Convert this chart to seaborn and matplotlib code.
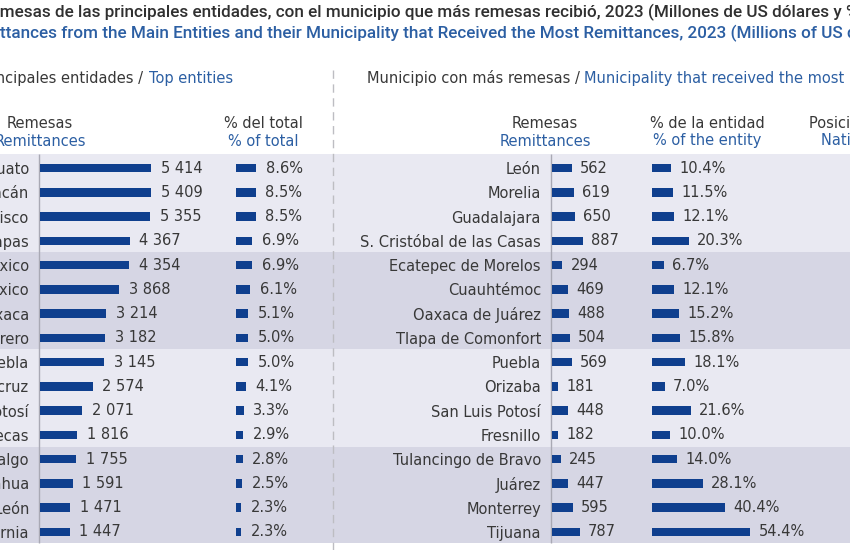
import matplotlib
matplotlib.use("Agg")
import matplotlib.pyplot as plt
import seaborn as sns

# data
entidades = ["Guanajuato", "Michoacán", "Jalisco", "Chiapas", "Estado de México",
             "Ciudad de México", "Oaxaca", "Guerrero", "Puebla", "Veracruz",
             "San Luis Potosí", "Zacatecas", "Hidalgo", "Chihuahua", "Nuevo León",
             "Baja California"]
remesas_ent = [5414, 5409, 5355, 4367, 4354, 3868, 3214, 3182, 3145, 2574,
               2071, 1816, 1755, 1591, 1471, 1447]
pct_total = [8.6, 8.5, 8.5, 6.9, 6.9, 6.1, 5.1, 5.0, 5.0, 4.1, 3.3, 2.9,
             2.8, 2.5, 2.3, 2.3]

municipios = ["León", "Morelia", "Guadalajara", "S. Cristóbal de las Casas",
              "Ecatepec de Morelos", "Cuauhtémoc", "Oaxaca de Juárez",
              "Tlapa de Comonfort", "Puebla", "Orizaba", "San Luis Potosí",
              "Fresnillo", "Tulancingo de Bravo", "Juárez", "Monterrey", "Tijuana"]
remesas_mun = [562, 619, 650, 887, 294, 469, 488, 504, 569, 181, 448, 182,
               245, 447, 595, 787]
pct_entidad = [10.4, 11.5, 12.1, 20.3, 6.7, 12.1, 15.2, 15.8, 18.1, 7.0, 21.6,
               10.0, 14.0, 28.1, 40.4, 54.4]

BLUE = "#0f3f8e"
TXT_BLUE = "#2c5fa3"
GRAY = "#383838"
LIGHT = "#e9e9f2"
DARK = "#d6d6e4"
FS = 10.5

sns.set_theme(style="white")
plt.rcParams["font.family"] = ["DejaVu Sans"]

W, H = 850, 550
fig = plt.figure(figsize=(8.5, 5.5), dpi=100)
bg = fig.add_axes([0, 0, 1, 1])
bg.set_xlim(0, W)
bg.set_ylim(H, 0)
bg.axis("off")

# alternating bands, four rows each
for y0, y1, c in [(154, 252, LIGHT), (252, 349, DARK), (349, 447, LIGHT), (447, 543, DARK)]:
    bg.axhspan(y0, y1, color=c, lw=0, zorder=0)

bg.vlines([39.5, 551.5], 154, 543, color="#a9a9b4", lw=1, zorder=1)
bg.vlines(333, 70, 550, color="#bdbdc2", lw=1, ls=(0, (6, 4)), zorder=1)

renderer = fig.canvas.get_renderer()


def width_of(s, **kw):
    t = bg.text(0, 0, s, **kw)
    w = t.get_window_extent(renderer).width
    t.remove()
    return w


def cut_text(x, y, full, cut, **kw):
    # place the full string so that the part after `cut` starts at x
    bg.text(x - width_of(cut, **kw), y, full, va="center", ha="left", **kw)


# titles
t1 = dict(fontsize=12.3, fontweight="medium", color="#303030", family=["Roboto", "DejaVu Sans"])
cut_text(0, 12, "Remesas de las principales entidades, con el municipio que más remesas "
         "recibió, 2023 (Millones de US dólares y %)", "Re", **t1)
t2 = dict(t1, color=TXT_BLUE)
cut_text(0, 33, "Remittances from the Main Entities and their Municipality that Received "
         "the Most Remittances, 2023 (Millions of US dollars and %)", "Remi", **t2)

# section subtitles
sub = dict(fontsize=FS, color=GRAY)
bg.text(143, 78, "Principales entidades /", va="center", ha="right", **sub)
bg.text(149, 78, "Top entities", va="center", fontsize=FS, color=TXT_BLUE)
bg.text(367, 78, "Municipio con más remesas /", va="center", **sub)
bg.text(367 + width_of("Municipio con más remesas / ", **sub), 78,
        "Municipality that received the most remittances", va="center",
        fontsize=FS, color=TXT_BLUE)

# column headers
for x, es, en in [(40, "Remesas", "Remittances"), (263, "% del total", "% of total"),
                  (545, "Remesas", "Remittances"), (707, "% de la entidad", "% of the entity")]:
    bg.text(x, 123, es, ha="center", va="center", fontsize=FS, color=GRAY)
    bg.text(x, 141, en, ha="center", va="center", fontsize=FS, color=TXT_BLUE)
bg.text(809, 123, "Posición nacional", va="center", fontsize=FS, color=GRAY)
bg.text(821, 141, "National ranking", va="center", fontsize=FS, color=TXT_BLUE)


def px_axes(x0, x1, y0=156, y1=544):
    return fig.add_axes([x0 / W, 1 - y1 / H, (x1 - x0) / W, (y1 - y0) / H])


def bars(ax, names, vals, labels, pad, show_names=False):
    sns.barplot(x=vals, y=names, orient="h", color=BLUE, width=0.35,
                saturation=1, linewidth=0, ax=ax)
    ax.set_xlim(0, max(vals))
    ax.set_ylim(len(names) - 0.5, -0.5)
    ax.patch.set_alpha(0)
    sns.despine(ax=ax, left=True, bottom=True)
    ax.set_xticks([])
    ax.set_xlabel("")
    ax.set_ylabel("")
    if show_names:
        ax.tick_params(axis="y", length=0, pad=8, labelsize=FS, labelcolor=GRAY)
    else:
        ax.set_yticks([])
    ax.bar_label(ax.containers[0], labels=labels, padding=pad,
                 fontsize=FS, color=GRAY)


def miles(v):
    return f"{v:,}".replace(",", " ")


ax1 = px_axes(40, 151)
bars(ax1, entidades, remesas_ent, [miles(v) for v in remesas_ent], 7, show_names=True)
ax2 = px_axes(236, 256)
bars(ax2, entidades, pct_total, [f"{v:.1f}%" for v in pct_total], 7)
ax3 = px_axes(552, 583)
bars(ax3, municipios, remesas_mun, [miles(v) for v in remesas_mun], 6, show_names=True)
ax4 = px_axes(652, 750)
bars(ax4, municipios, pct_entidad, [f"{v:.1f}%" for v in pct_entidad], 6)

fig.savefig("out.png", dpi=100)
